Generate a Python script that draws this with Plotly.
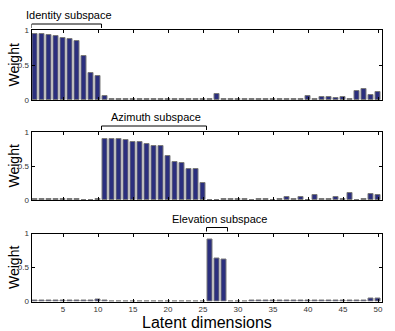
import plotly.graph_objects as go

dims = list(range(1, 51))

identity_w = [0.95, 0.95, 0.93, 0.91, 0.88, 0.87, 0.85, 0.63, 0.39, 0.34,
              0.06, 0.01, 0.01, 0.01, 0.01, 0.01, 0.01, 0.01, 0.02, 0.01,
              0.01, 0.01, 0.01, 0.01, 0.01, 0.01, 0.08, 0.02, 0.01, 0.01,
              0.01, 0.01, 0.01, 0.01, 0.01, 0.01, 0.01, 0.01, 0.01, 0.06,
              0.01, 0.04, 0.04, 0.03, 0.04, 0.01, 0.13, 0.16, 0.07, 0.11]

azimuth_w = [0.01, 0.01, 0.01, 0.02, 0.01, 0.02, 0.01, 0.00, 0.00, 0.01,
             0.90, 0.89, 0.89, 0.88, 0.86, 0.85, 0.83, 0.80, 0.79, 0.64,
             0.56, 0.55, 0.46, 0.46, 0.25, 0.00, 0.00, 0.01, 0.01, 0.02,
             0.02, 0.00, 0.02, 0.02, 0.00, 0.01, 0.04, 0.02, 0.05, 0.00,
             0.07, 0.02, 0.02, 0.04, 0.02, 0.10, 0.00, 0.01, 0.09, 0.07]

elevation_w = [0.01, 0.02, 0.02, 0.01, 0.02, 0.02, 0.01, 0.01, 0.01, 0.03,
               0.01, 0.00, 0.00, 0.00, 0.00, 0.00, 0.00, 0.00, 0.00, 0.00,
               0.00, 0.00, 0.00, 0.00, 0.00, 0.91, 0.63, 0.62, 0.00, 0.00,
               0.00, 0.02, 0.01, 0.01, 0.02, 0.02, 0.01, 0.02, 0.01, 0.01,
               0.01, 0.02, 0.02, 0.01, 0.02, 0.01, 0.01, 0.01, 0.05, 0.05]

titles = ["Identity subspace", "Azimuth subspace", "Elevation subspace"]
subspaces = [(1, 10), (11, 25), (26, 28)]
series = [identity_w, azimuth_w, elevation_w]

x_ticks = [5, 10, 15, 20, 25, 30, 35, 40, 45, 50]
y_ticks = [0, 0.5, 1]
y_tick_text = ["0", "0.5", "1"]

W, H = 395, 331
# pixel positions of panels (top, bottom)
panels_px = [(30, 100), (132, 200), (233.5, 301.5)]
x_left_px, x_right_px = 31.5, 381.5

fig = go.Figure()

FONT = "Liberation Sans"
for i, (vals, title, (s0, s1), (ptop, pbot)) in enumerate(zip(series, titles, subspaces, panels_px)):
    xa = "x" if i == 0 else f"x{i+1}"
    ya = "y" if i == 0 else f"y{i+1}"
    fig.add_trace(go.Bar(
        x=dims, y=vals, xaxis=xa, yaxis=ya,
        marker=dict(color="#2B2F7E", line=dict(color="#7A7A7A", width=1)),
        width=0.82, showlegend=False,
    ))
    d0 = (H - pbot) / H
    d1 = (H - ptop) / H
    ax_common = dict(showline=True, linecolor="black", linewidth=1, mirror="ticks",
                     ticks="inside", ticklen=3, tickcolor="black", showgrid=False,
                     zeroline=False, automargin=False)
    fig.layout[("xaxis" if i == 0 else f"xaxis{i+1}")] = dict(
        domain=[x_left_px / W, x_right_px / W], range=[0.5, 50.5],
        anchor=ya, tickvals=x_ticks, showticklabels=(i == 2),
        tickfont=dict(family=FONT, size=8, color="#333333"), **ax_common)
    fig.layout[("yaxis" if i == 0 else f"yaxis{i+1}")] = dict(
        domain=[d0, d1], range=[0, 1], anchor=xa, tickvals=y_ticks,
        ticktext=y_tick_text, tickfont=dict(family=FONT, size=8, color="#333333"),
        **ax_common)
    # bracket
    yb_low = (H - (ptop - 2)) / H
    yb_high = (H - (ptop - 6)) / H
    xr = xa
    fig.add_shape(type="path", xref=xr, yref="paper",
                  path=f"M {s0-0.5},{yb_low} L {s0-0.5},{yb_high} L {s1+0.5},{yb_high} L {s1+0.5},{yb_low}",
                  line=dict(color="black", width=1))
    fig.add_annotation(x=(s0 + s1) / 2 + 0.3, xref=xr, y=yb_high, yref="paper",
                       text=title, showarrow=False, xanchor="center", yanchor="bottom", yshift=1,
                       font=dict(family=FONT, size=11, color="black"))
    # y label
    fig.add_annotation(x=13.5 / W, xref="paper", y=(d0 + d1) / 2, yref="paper",
                       text="Weight", textangle=-90, showarrow=False,
                       xanchor="center", yanchor="middle",
                       font=dict(family=FONT, size=14, color="black"))

fig.add_annotation(x=(x_left_px + x_right_px) / 2 / W, xref="paper", y=(H - 322) / H, yref="paper",
                   text="Latent dimensions", showarrow=False, xanchor="center", yanchor="middle",
                   font=dict(family=FONT, size=16, color="black"))

fig.update_layout(width=W, height=H, margin=dict(l=0, r=0, t=0, b=0, autoexpand=False),
                  paper_bgcolor="white", plot_bgcolor="white", bargap=0)

fig.write_html("out.html", config={"displayModeBar": False},
               post_script="document.body.style.margin='0';document.body.style.overflow='hidden';")
